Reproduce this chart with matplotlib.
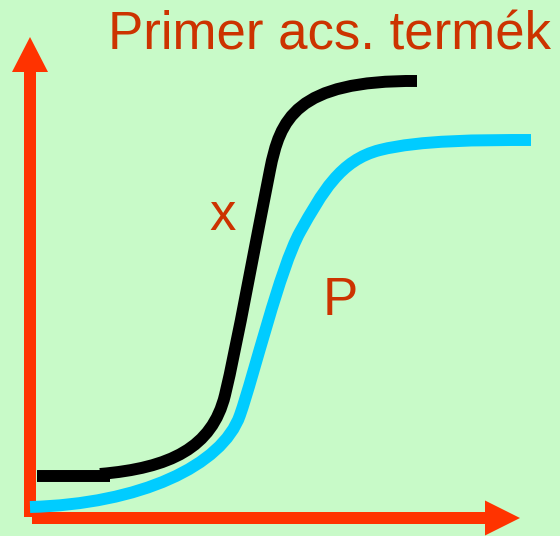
import matplotlib
matplotlib.use("Agg")
import matplotlib.pyplot as plt
from matplotlib.path import Path
from matplotlib.patches import PathPatch

# origin at the axis corner (units ~ pixels); curves are cubic Bezier
# vertices: anchor, control, control, anchor, ...
x_flat_t = [7, 80]
x_flat_c = [42, 42]

x_t = [70, 140, 182, 195, 207, 226, 240, 250, 265, 387]
x_c = [44, 50, 70, 123, 173, 278, 348, 398, 438, 437]

p_t = [0, 110, 192, 210, 224, 250, 270, 292, 310, 350, 390, 450, 501]
p_c = [11, 14, 52, 103, 143, 250, 286, 325, 358, 368, 378, 378, 378]

title = "Primer acs. termék"
label_x = "x"
label_p = "P"

bg = "#c8fac8"
axis_red = "#ff3300"
text_red = "#cc3300"

plt.rcParams["font.family"] = ["Liberation Sans", "DejaVu Sans"]


def bezier(ax, xs, ys, color):
    codes = [Path.MOVETO] + [Path.CURVE4] * (len(xs) - 1)
    path = Path(list(zip(xs, ys)), codes)
    ax.add_patch(PathPatch(path, fill=False, edgecolor=color, lw=8.6,
                           capstyle="butt", joinstyle="round"))


fig = plt.figure(figsize=(5.6, 5.36), dpi=100, facecolor=bg)
ax = fig.add_axes([0, 0, 1, 1])
ax.set_facecolor(bg)
ax.set_xlim(-30, 530)
ax.set_ylim(-18, 518)
ax.axis("off")

# axes drawn as arrows
ax.arrow(0, 1, 0, 480, width=12, head_width=36, head_length=35,
         length_includes_head=True, color=axis_red, lw=0)
ax.arrow(2, 0, 488, 0, width=12, head_width=35, head_length=35,
         length_includes_head=True, color=axis_red, lw=0)

ax.plot(x_flat_t, x_flat_c, color="black", lw=8.6, solid_capstyle="butt")
bezier(ax, x_t, x_c, "black")
bezier(ax, p_t, p_c, "#00ccff")

ax.text(78, 468, title, color=text_red, fontsize=38, ha="left", va="baseline")
ax.text(179, 288, label_x, color=text_red, fontsize=38, ha="left", va="baseline")
ax.text(293, 203, label_p, color=text_red, fontsize=38, ha="left", va="baseline")

fig.savefig("out.png", dpi=100, facecolor=bg)
